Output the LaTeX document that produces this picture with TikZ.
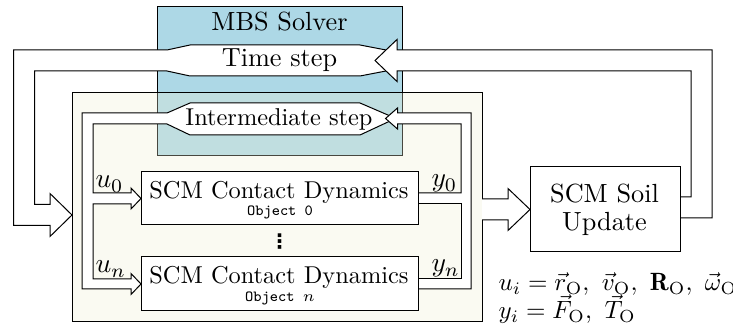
\RequirePackage{fix-cm}
\documentclass[tikz,border=0pt]{standalone}
\usepackage{fontspec}
\newfontfamily\dotsfont{DejaVu Sans}

\definecolor{mbsblue}{HTML}{ADD8E6}
\definecolor{panelfill}{RGB}{238,238,212}

\tikzset{
  panel/.style={draw, line width=0.4pt, inner sep=0pt, outer sep=0pt, anchor=north west},
  block/.style={panel, fill=white},
  band/.style={line width=0.4pt, line join=miter},
  txt/.style={font=\fontsize{10.5}{12.6}\selectfont, inner sep=0pt},
  txtsm/.style={font=\fontsize{9.75}{11.7}\selectfont, inner sep=0pt},
  tag/.style={font=\fontsize{6.2}{7.4}\selectfont\ttfamily, inner sep=0pt},
  sig/.style={font=\fontsize{11}{13}\selectfont, inner sep=0pt},
  eqn/.style={font={\fontsize{10}{11.2}\selectfont\lineskiplimit=-20pt}, inner sep=0pt, align=left},
  % hollow band: time step label and its leg into the object panel
  tsleg/.style={insert path={(386,50) -- (360,45) -- (190,45) -- (167,50) -- (13.5,50)
      -- (13.5,225.5) -- (50,225.5) -- (50,236.5) -- (tsTip) -- (50,193.5) -- (50,204.5)
      -- (34.5,204.5) -- (34.5,71) -- (167,71) -- (190,76) -- (360,76) -- (386,71)}},
  % hollow band: time step return from the soil update
  tsret/.style={insert path={(680,197) -- (691,197) -- (691,71) -- (397,71) -- (397,81.5)
      -- (375,60.5) -- (397,39.5) -- (397,50) -- (712,50) -- (712,218) -- (680,218)}},
  % hollow band: intermediate step label and the inputs u_0 ... u_n
  isleg/.style={insert path={(389,115.5) -- (360,103) -- (190,103) -- (167,113) -- (82,113)
      -- (82,289) -- (131,289) -- (131,294.5) -- (cn.west) -- (131,273.5) -- (131,279)
      -- (93,279) -- (93,204) -- (131,204) -- (131,209) -- (c0.west) -- (131,188)
      -- (131,193) -- (93,193) -- (93,124) -- (167,124) -- (190,135) -- (360,135) -- (389,121.5)}},
  % hollow band: outputs y_0 ... y_n back to the intermediate step
  isret/.style={insert path={(418,193) -- (461,193) -- (461,124) -- (397.5,124) -- (397.5,129)
      -- (385.5,118.5) -- (397.5,108) -- (397.5,113) -- (471,113) -- (471,289) -- (418,289)}},
  isretgap/.style={insert path={(418,279) -- (461,279) -- (461,204) -- (418,204)}},
  % hollow band: object panel to soil update
  soilleg/.style={insert path={(482,199) -- (508,199) -- (508,188.5) -- (soil.west)
      -- (508,230.5) -- (508,220) -- (482,220)}},
}

\begin{document}
\begin{tikzpicture}[x=0.4pt, y=-0.4pt]
\useasboundingbox (0,0) rectangle (733,331);

% solver panel and the translucent object panel over it
\node[panel, fill=mbsblue, minimum width=98pt, minimum height=59.6pt] (mbs) at (157,7) {};
\node[panel, fill=panelfill, fill opacity=0.3, minimum width=164pt, minimum height=91.6pt] (objs) at (72,92.5) {};
\node[txt, anchor=base] (mbstitle) at (279.5,31) {MBS Solver};

% block positions (drawn after the bands)
\path (141,172) coordinate (c0nw) (141,257) coordinate (cnnw) (530,167) coordinate (soilnw);
\coordinate (tsTip) at (72,215);

% placeholders so that the bands can refer to block anchors
\node[panel, draw=none, minimum width=110.8pt, minimum height=21.2pt] (c0) at (c0nw) {};
\node[panel, draw=none, minimum width=110.8pt, minimum height=21.6pt] (cn) at (cnnw) {};
\node[panel, draw=none, minimum width=60pt, minimum height=34pt] (soil) at (soilnw) {};

% time step
\fill[white, tsleg] -- (392,60.5) -- cycle;
\draw[band, tsleg];
\fill[white, tsret] -- cycle;
\draw[band, tsret];

% intermediate step
\fill[white, isleg] -- (394,118.5) -- cycle;
\draw[band, isleg];
\fill[white, isret] -- (418,279) -- (461,279) -- (461,204) -- (418,204) -- cycle;
\draw[band, isret];
\draw[band, isretgap];

% object panel to soil update
\fill[white, soilleg] -- cycle;
\draw[band, soilleg];

% blocks
\node[block, minimum width=110.8pt, minimum height=21.2pt] (c0box) at (c0nw) {};
\node[block, minimum width=110.8pt, minimum height=21.6pt] (cnbox) at (cnnw) {};
\node[block, minimum width=60pt, minimum height=34pt] (soilbox) at (soilnw) {};

% texts
\node[txt, anchor=base] (tstext) at (279.5,66.5) {Time step};
\node[txtsm, anchor=base] (istext) at (279,125.5) {Intermediate step};

\node[txtsm, anchor=base] (c0text) at (279,198.5) {SCM Contact Dynamics};
\node[tag, anchor=base] (c0tag) at (280,216) {Object 0};
\node[txtsm, anchor=base] (cntext) at (279,284) {SCM Contact Dynamics};
\node[tag, anchor=base] (cntag) at (280,302) {Object $n$};
\node[font=\dotsfont\fontsize{8}{9}\bfseries\selectfont, inner sep=0pt] (dots) at (279.5,241.5) {⋮};

\node[txt, anchor=base] (soiltext1) at (604.5,203) {SCM Soil};
\node[txt, anchor=base] (soiltext2) at (604.5,231) {Update};

\node[sig, anchor=base west] (u0) at (95,188) {$u_0$};
\node[sig, anchor=base west] (y0) at (431,187) {$y_0$};
\node[sig, anchor=base west] (un) at (95,273) {$u_n$};
\node[sig, anchor=base west] (yn) at (431,272) {$y_n$};

\node[eqn, anchor=base west] (eqs) at (498,319)
  {$u_i = \vec{r}_\mathrm{O},\ \vec{v}_\mathrm{O},\ \mathbf{R}_\mathrm{O},\ \vec{\omega}_\mathrm{O}$\\
   $y_i = \vec{F}_\mathrm{O},\ \vec{T}_\mathrm{O}$};
\end{tikzpicture}
\end{document}
